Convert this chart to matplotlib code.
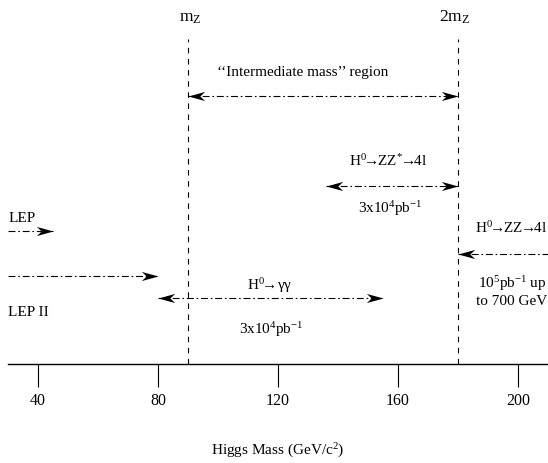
import matplotlib
matplotlib.use("Agg")
import matplotlib.pyplot as plt
from matplotlib.path import Path

plt.rcParams["font.family"] = ["Liberation Serif", "DejaVu Serif"]
plt.rcParams["mathtext.fontset"] = "custom"
plt.rcParams["mathtext.rm"] = "Liberation Serif"
plt.rcParams["mathtext.it"] = "Liberation Serif:italic"
plt.rcParams["lines.scale_dashes"] = False

# Higgs mass axis (GeV/c^2)
mass_ticks = [40, 80, 120, 160, 200]
mass_min, mass_max = 30, 210
mz = 90
two_mz = 180

# mass ranges covered by each search: (from, to, level on the sketch)
lep_range = (30, 45, 36.5)
lep2_range = (30, 80, 24.2)
gamgam_range = (80, 155, 18.0)
zzstar_range = (136, 180, 48.7)
intermediate_range = (mz, two_mz, 73.5)
zz_range = (215, 180, 30.1)

# labels: (text, mass, level, alignment, size)
labels = [
    ("m$_{\\mathrm{Z}}$", 90.8, 94.0, "center", 12.5),
    ("2m$_{\\mathrm{Z}}$", 179.0, 94.0, "center", 12.5),
    ("\u2018\u2018Intermediate mass\u2019\u2019 region", 128.3, 79.2, "center", 11),
    ("H$^{0}\\!$\u2192$\\!$ZZ$^{*}\\!$\u2192$\\!$4l", 156.7, 54.5, "center", 11),
    ("3x10$^{4}$pb$^{-1}$", 157.3, 41.6, "center", 11),
    ("LEP", 30.1, 39.3, "left", 11),
    ("H$^{0}\\!$\u2192$\\!$ZZ$\\!$\u2192$\\!$4l", 209.6, 36.2, "right", 11),
    ("10$^{5}$pb$^{-1}$ up", 198.0, 21.1, "center", 11),
    ("to 700 GeV", 198.0, 16.4, "center", 11),
    ("LEP II", 30.0, 13.4, "left", 11),
    ("H$^{0}\\!$\u2192\u03b3\u03b3", 117.3, 20.5, "center", 11),
    ("3x10$^{4}$pb$^{-1}$", 117.7, 8.5, "center", 11),
]

DASHDOT = (5, 2, 1.2, 2)
HEAD_R = Path([(0, 0), (-12, 3.3), (-8.5, 0), (-12, -3.3), (0, 0)],
              [Path.MOVETO, Path.LINETO, Path.LINETO, Path.LINETO, Path.CLOSEPOLY])
HEAD_L = Path([(0, 0), (12, 3.3), (8.5, 0), (12, -3.3), (0, 0)],
              [Path.MOVETO, Path.LINETO, Path.LINETO, Path.LINETO, Path.CLOSEPOLY])


def head(ax, x, y, path):
    ax.plot([x], [y], marker=path, ms=24, mew=0, color="k", clip_on=False)


def range_arrow(ax, rng, both=False):
    x0, x1, y = rng
    ax.plot([x0, x1], [y, y], color="k", lw=0.8, dashes=DASHDOT)
    head(ax, x1, y, HEAD_R if x1 > x0 else HEAD_L)
    if both:
        head(ax, x0, y, HEAD_L if x1 > x0 else HEAD_R)


fig = plt.figure(figsize=(5.48, 4.64), dpi=100)
ax = fig.add_axes([8 / 548, 99 / 464, 540 / 548, 365 / 464])
ax.set_xlim(mass_min, mass_max)
ax.set_ylim(0, 100)

for x in (mz, two_mz):
    ax.plot([x, x], [0, 89], color="k", lw=0.8, dashes=(4, 4))

range_arrow(ax, lep_range)
range_arrow(ax, lep2_range)
range_arrow(ax, gamgam_range, both=True)
range_arrow(ax, zzstar_range, both=True)
range_arrow(ax, intermediate_range, both=True)
range_arrow(ax, zz_range)

for text, x, y, ha, size in labels:
    ax.text(x, y, text, ha=ha, va="baseline", fontsize=size)

for s in ("top", "left", "right"):
    ax.spines[s].set_visible(False)
ax.spines["bottom"].set_linewidth(1.0)
ax.set_yticks([])
ax.set_xticks(mass_ticks)
ax.tick_params(axis="x", direction="out", length=16.5, width=0.8, pad=4,
               labelsize=11.5)
ax.set_xlabel("Higgs Mass (GeV/c$^{2}$)", fontsize=11, labelpad=23)

fig.savefig("out.png", dpi=100)
